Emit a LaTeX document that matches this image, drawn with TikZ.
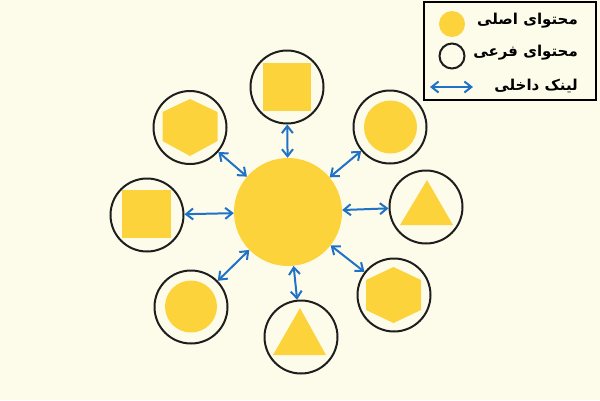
\documentclass[tikz,border=0pt]{standalone}
\usepackage{fontspec}
\newfontfamily\arabicfont[Script=Arabic]{DejaVu Sans}
\TeXXeTstate=1
\usetikzlibrary{arrows.meta}
\definecolor{bg}{HTML}{FDFCEB}
\definecolor{gold}{HTML}{FDD33C}
\definecolor{linkblue}{HTML}{1F72C6}
\definecolor{ink}{HTML}{1E1E1E}
\begin{document}
\begin{tikzpicture}[x=1pt,y=-1pt,
  main/.style={circle,fill=gold,inner sep=0pt,minimum size=108pt},
  sat/.style={circle,draw=ink,line width=2pt,inner sep=0pt,minimum size=73pt},
  link/.style={draw=linkblue,line width=2pt,{Straight Barb[length=7pt,width=11pt]}-{Straight Barb[length=7pt,width=11pt]}},
  legtext/.style={anchor=east,font=\arabicfont\bfseries\fontsize{15}{18}\selectfont,inner sep=0pt}]
\fill[bg] (0,0) rectangle (600,400);
\useasboundingbox (0,0) rectangle (600,400);

% main content
\node[main] (c) at (288,212) {};

% satellites
\node[sat] (s1) at (287,87) {};
\node[sat] (s2) at (190,127.5) {};
\node[sat] (s3) at (147,215) {};
\node[sat] (s4) at (390,127) {};
\node[sat] (s5) at (426,207) {};
\node[sat] (s6) at (394,295) {};
\node[sat] (s7) at (301,337) {};
\node[sat] (s8) at (191,307) {};

% inner shapes
\fill[gold] (263,63) rectangle (311,111);
\fill[gold] (190,99) -- (217.5,112) -- (217.5,141) -- (190,156) -- (162.5,141) -- (162.5,112) -- cycle;
\fill[gold] (122,190) rectangle (171,238);
\fill[gold] (390.5,127) circle[radius=26.5pt];
\fill[gold] (427,180) -- (453,225) -- (400,225) -- cycle;
\fill[gold] (393.5,267) -- (421,280) -- (421,310) -- (393.5,323) -- (366,310) -- (366,280) -- cycle;
\fill[gold] (191,306.5) circle[radius=26pt];
\fill[gold] (300,308) -- (326,355) -- (273,355) -- cycle;

% links
\foreach \s in {s1,s2,s3,s4,s5,s6,s7,s8}
  \draw[link] (\s) -- (c);

% legend
\node[draw=black,line width=2.2pt,minimum width=172pt,minimum height=98pt,inner sep=0pt] (legend) at (510,51) {};
\node[circle,fill=gold,minimum size=26pt,inner sep=0pt] (lg1) at (452,24) {};
\node[circle,draw=ink,line width=2pt,minimum size=25pt,inner sep=0pt] (lg2) at (452,56) {};
\coordinate (la) at (430,87);
\coordinate (lb) at (473,87);
\draw[link] (la) -- (lb);
\node[legtext] (t1) at (578,21) {\beginR محتوای اصلی\endR};
\node[legtext] (t2) at (578,53) {\beginR محتوای فرعی\endR};
\node[legtext] (t3) at (578,86) {\beginR لینک داخلی\endR};
\end{tikzpicture}
\end{document}
